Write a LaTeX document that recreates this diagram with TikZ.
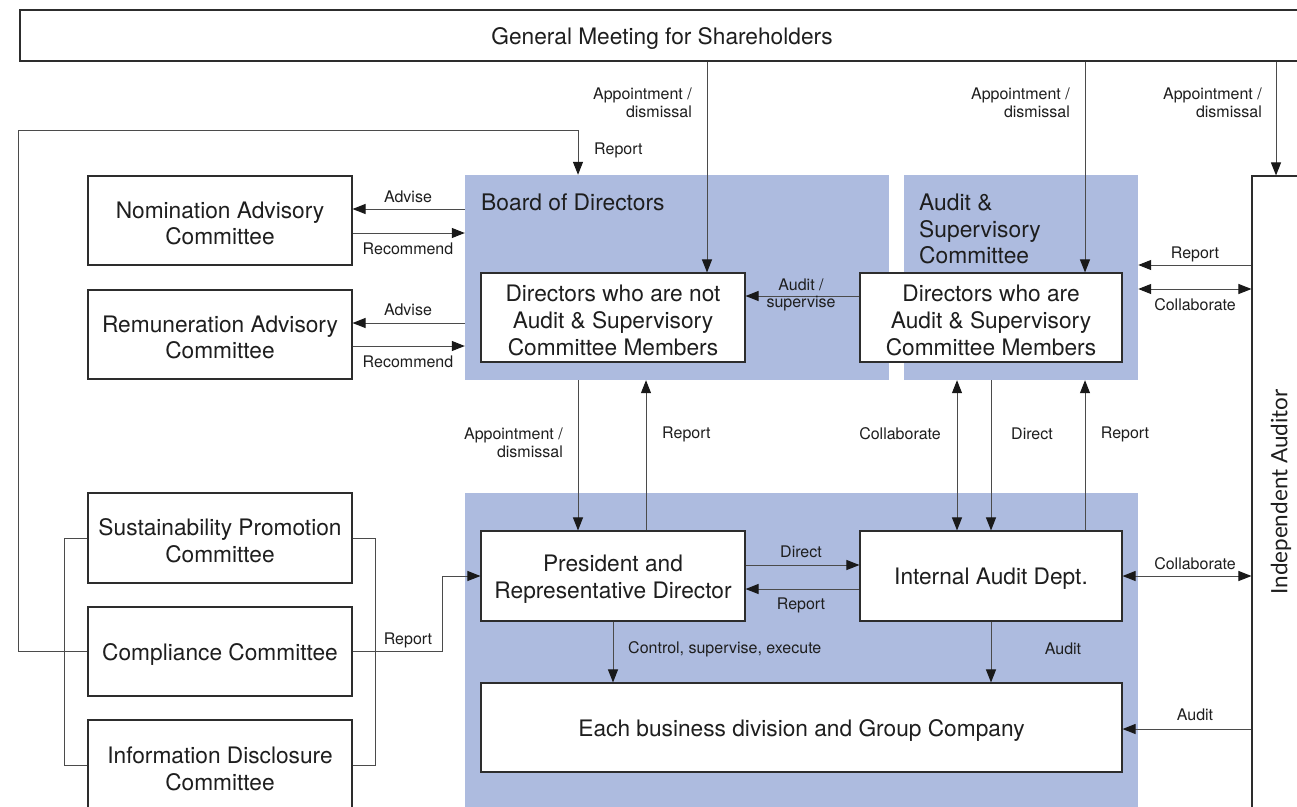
\documentclass[tikz,border=0pt]{standalone}
\usepackage{fontspec}
\setmainfont{TeX Gyre Heros}
\newfontfamily\iafont{Lato}
\usetikzlibrary{arrows.meta}
\definecolor{panel}{RGB}{173,187,223}
\definecolor{edge}{RGB}{45,45,45}
\definecolor{wire}{RGB}{75,75,75}
\definecolor{ink}{RGB}{30,30,30}
\definecolor{tipcol}{RGB}{25,25,25}
\begin{document}
\begin{tikzpicture}[x=1pt,y=-1pt,
  box/.style={draw=edge, line width=1.1pt, fill=white, inner sep=0pt,
    minimum width=264pt, minimum height=89pt},
  btext/.style={align=center, inner sep=0pt, text=ink, font=\fontsize{22.7}{26.8}\selectfont, yshift=-3pt},
  panelbox/.style={fill=panel, inner sep=0pt},
  tip/.tip={Triangle[length=13pt,width=10pt,color=tipcol]},
  conn/.style={draw=wire, line width=1pt, -tip},
  biconn/.style={draw=wire, line width=1pt, tip-tip},
  plain/.style={draw=wire, line width=1pt},
  lbl/.style={font=\fontsize{16}{17.5}\selectfont, inner sep=0pt, align=center, text=ink},
  title/.style={font=\fontsize{22.8}{26.5}\selectfont, inner sep=0pt, align=left, text=ink, anchor=north west}
]
\useasboundingbox (0,0) rectangle (1297,806);
\fill[white] (0,0) rectangle (1297,806);

% helper coordinates
\coordinate (x578) at (578,0);
\coordinate (x646) at (646,0);
\coordinate (x707) at (707,0);
\coordinate (x957) at (957,0);
\coordinate (x991) at (991,0);
\coordinate (x1085) at (1085,0);
\coordinate (x1276) at (1276,0);
\coordinate (y209) at (0,209);
\coordinate (y233) at (0,233);
\coordinate (y323) at (0,323);
\coordinate (y346) at (0,346);
\coordinate (y265) at (0,265);
\coordinate (y289) at (0,289);
\coordinate (y296) at (0,296);
\coordinate (y565) at (0,565);
\coordinate (y589) at (0,589);
\coordinate (y729) at (0,729);

% panels
\node[panelbox, minimum width=424pt, minimum height=205pt] (bod) at (677,277.5) {};
\node[panelbox, minimum width=234pt, minimum height=205pt] (asc) at (1021,277.5) {};
\node[panelbox, minimum width=673pt, minimum height=327pt] (exec) at (801.5,656.5) {};
\node[title] (bodt) at (481,194) {Board of Directors};
\node[title] (asct) at (919,194) {Audit \&\\Supervisory\\Committee};

% top and right boxes
\node[box, minimum width=1284pt, minimum height=51pt] (gm) at (662,35.5) {};
\node[btext] (gmT) at (gm.center) {General Meeting for Shareholders};
\node[box, minimum width=58pt, minimum height=632pt] (ia) at (1281,492) {};
\node[rotate=90, font=\iafont\fontsize{22.5}{24}\selectfont, text=ink] (iat) at (ia.center) {Independent Auditor};

% inner boxes
\node[box] (dnot) at (613,317.5) {};
\node[btext] (dnotT) at (dnot.center) {Directors who are not\\Audit \& Supervisory\\Committee Members};
\node[box, minimum width=262pt] (dare) at (991,317.5) {};
\node[btext] (dareT) at (dare.center) {Directors who are\\Audit \& Supervisory\\Committee Members};
\node[box, minimum height=90pt] (pres) at (613,576) {};
\node[btext] (presT) at (pres.center) {President and\\Representative Director};
\node[box, minimum width=262pt, minimum height=90pt] (iad) at (991,576) {};
\node[btext] (iadT) at (iad.center) {Internal Audit Dept.};
\node[box, minimum width=641pt] (ebd) at (801.5,727.5) {};
\node[btext] (ebdT) at (ebd.center) {Each business division and Group Company};

% left committees
\node[box] (nom) at (220,220.5) {};
\node[btext] (nomT) at (nom.center) {Nomination Advisory\\Committee};
\node[box] (rem) at (220,334.5) {};
\node[btext] (remT) at (rem.center) {Remuneration Advisory\\Committee};
\node[box, minimum height=90pt] (sus) at (220,538) {};
\node[btext] (susT) at (sus.center) {Sustainability Promotion\\Committee};
\node[box] (comp) at (220,651.5) {};
\node[btext] (compT) at (comp.center) {Compliance Committee};
\node[box, minimum height=90pt] (info) at (220,765) {};
\node[btext] (infoT) at ([yshift=-1pt]info.center) {Information Disclosure\\Committee};

% shareholders appointments
\draw[conn] (gm.south -| x707) -- (dnot.north -| x707);
\draw[conn] (gm.south -| x1085) -- (dare.north -| x1085);
\draw[conn] (gm.south -| x1276) -- (ia.north -| x1276);
\node[lbl, anchor=east, align=right] (l1) at (692,103) {Appointment /\\dismissal};
\node[lbl, anchor=east, align=right] (l2) at (1070,103) {Appointment /\\dismissal};
\node[lbl, anchor=east, align=right] (l3) at (1262,103) {Appointment /\\dismissal};

% compliance report loop
\coordinate (loopTop) at (18,130);
\draw[conn] (comp.west) -| (loopTop) -| (bod.north -| x578);
\node[lbl, anchor=west] (l4) at (594,150) {Report};

% bracket around committees
\draw[plain] (sus.west) -- ++(-23,0) |- (info.west);
\draw[plain] (sus.east) -- ++(23,0) |- (info.east);

% compliance -> president
\coordinate (bendP) at (442,576);
\draw[conn] (comp.east) -| (bendP) -- (pres.west);
\node[lbl] (l5) at (408,640) {Report};

% advise / recommend
\draw[conn] (bod.west |- y209) -- (nom.east |- y209);
\draw[conn] (nom.east |- y233) -- (bod.west |- y233);
\draw[conn] (bod.west |- y323) -- (rem.east |- y323);
\draw[conn] (rem.east |- y346) -- (bod.west |- y346);
\node[lbl] (l6) at (408,197) {Advise};
\node[lbl] (l7) at (408,249) {Recommend};
\node[lbl] (l8) at (408,310) {Advise};
\node[lbl] (l9) at (408,362) {Recommend};

% audit / supervise
\draw[conn] (dare.west |- y296) -- (dnot.east |- y296);
\node[lbl] (l10) at (801,295) {Audit /\\supervise};

% independent auditor to committee
\draw[conn] (ia.west |- y265) -- (asc.east |- y265);
\draw[biconn] (asc.east |- y289) -- (ia.west |- y289);
\node[lbl] (l11) at (1195,254) {Report};
\node[lbl] (l12) at (1195,305) {Collaborate};

% board <-> executive
\draw[conn] (bod.south -| x578) -- (pres.north -| x578);
\draw[conn] (pres.north -| x646) -- (bod.south -| x646);
\node[lbl, anchor=east, align=right] (l13) at (563,443) {Appointment /\\dismissal};
\node[lbl, anchor=west] (l14) at (662,434) {Report};

\draw[biconn] (asc.south -| x957) -- (iad.north -| x957);
\draw[conn] (asc.south -| x991) -- (iad.north -| x991);
\draw[conn] (iad.north -| x1085) -- (asc.south -| x1085);
\node[lbl] (l15) at (900,434) {Collaborate};
\node[lbl] (l16) at (1032,434) {Direct};
\node[lbl] (l17) at (1125,434) {Report};

% president <-> internal audit
\draw[conn] (pres.east |- y565) -- (iad.west |- y565);
\draw[conn] (iad.west |- y589) -- (pres.east |- y589);
\node[lbl] (l18) at (801,552) {Direct};
\node[lbl] (l19) at (801,605) {Report};

\draw[biconn] (iad.east) -- (ia.west |- iad.east);
\node[lbl] (l20) at (1195,564) {Collaborate};

% down to business divisions
\draw[conn] (pres.south) -- (ebd.north -| pres.south);
\draw[conn] (iad.south) -- (ebd.north -| iad.south);
\node[lbl, anchor=west] (l21) at (628,649) {Control, supervise, execute};
\node[lbl] (l22) at (1063,649) {Audit};

\draw[conn] (ia.west |- y729) -- (ebd.east |- y729);
\node[lbl] (l23) at (1195,715) {Audit};
\end{tikzpicture}
\end{document}
